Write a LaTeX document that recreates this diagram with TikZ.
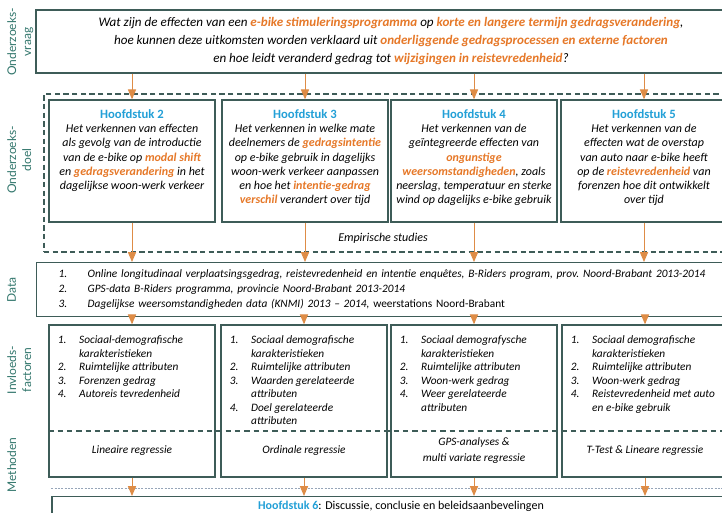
\documentclass[tikz,border=0pt]{standalone}
\usepackage{fontspec}
\setmainfont{Carlito}
\newfontfamily\labelfont{Lato}
\usetikzlibrary{positioning,arrows}

\definecolor{rand}{RGB}{62,92,88}
\definecolor{oranje}{RGB}{230,120,40}
\definecolor{pijlkleur}{RGB}{222,140,70}
\definecolor{blauw}{RGB}{35,160,215}
\definecolor{groen}{RGB}{50,118,108}
\definecolor{grijs}{RGB}{150,165,185}

\newcommand{\acc}[1]{\textcolor{oranje}{\textbf{#1}}}
\newcommand{\hfd}[1]{{\upshape\bfseries\fontsize{9.5}{11}\selectfont\textcolor{blauw}{Hoofdstuk #1}}}
\newcommand{\vakinhoud}[1]{\parbox[c][91.5pt][t]{124.5pt}{\centering\vspace*{7pt}#1}}

\begin{document}
\begin{tikzpicture}[x=0.75pt,y=-0.75pt,>=triangle 45,
  blok/.style={draw=rand,line width=1.1pt,fill=white,inner sep=0pt},
  vak/.style={blok,minimum width=124.5pt,minimum height=91.5pt,font=\itshape\fontsize{9}{10.7}\selectfont},
  kolom/.style={blok,minimum width=124.5pt,minimum height=114pt},
  label/.style={rotate=90,anchor=north,align=center,inner sep=0pt,text=groen,font=\labelfont\fontsize{9}{11.25}\selectfont},
  lijst/.style={anchor=north west,inner sep=0pt,font=\itshape\fontsize{8.5}{10.1}\selectfont},
  methode/.style={align=center,inner sep=0pt,font=\itshape\fontsize{8.5}{12}\selectfont},
  scheiding/.style={draw=rand,line width=0.9pt,dash pattern=on 4pt off 3pt},
  stippel/.style={draw=grijs,line width=0.6pt,dash pattern=on 1.5pt off 1pt},
  pijl/.style={->,color=pijlkleur,line width=0.7pt}]

  \path[use as bounding box,clip] (0,0) rectangle (722,513);

  % kolom met labels
  \node[label] (lvraag) at (7,42)  {Onderzoeks-\\vraag};
  \node[label] (ldoel)  at (7,160) {Onderzoeks-\\doel};
  \node[label] (ldata)  at (7,290) {Data};
  \node[label] (linvl)  at (7,370) {Invloeds-\\factoren};
  \node[label] (lmeth)  at (7,465) {Methoden};

  % onderzoeksvraag
  \node[blok,minimum width=532.5pt,minimum height=47.25pt,align=center,
        font=\itshape\fontsize{9.8}{13.5}\selectfont] (vraag) at (391,41.5)
    {Wat zijn de effecten van een \acc{e-bike stimuleringsprogramma} op \acc{korte en langere termijn gedragsverandering},\\
     hoe kunnen deze uitkomsten worden verklaard uit \acc{onderliggende gedragsprocessen en externe factoren}\\
     en hoe leidt veranderd gedrag tot \acc{wijzigingen in reistevredenheid}?};

  % empirische studies
  \node[draw=rand,line width=1.1pt,dash pattern=on 4pt off 2.5pt,
        minimum width=522pt,minimum height=118.5pt] (doel) at (392,173) {};
  \node[font=\itshape\fontsize{9}{11}\selectfont] (emp) at (383,238) {Empirische studies};

  \node[vak] (h2) at (132,161) {\vakinhoud{\hfd{2}\\
    Het verkennen van effecten\\ als gevolg van de introductie\\ van de e-bike op \acc{modal shift}\\
    en \acc{gedragsverandering} in het\\ dagelijkse woon-werk verkeer}};
  \node[vak] (h3) at (305,161) {\vakinhoud{\hfd{3}\\
    Het verkennen in welke mate\\ deelnemers de \acc{gedragsintentie}\\ op e-bike gebruik in dagelijks\\
    woon-werk verkeer aanpassen\\ en hoe het \acc{intentie-gedrag}\\ \acc{verschil} verandert over tijd}};
  \node[vak] (h4) at (474,161) {\vakinhoud{\hfd{4}\\
    Het verkennen van de\\ geïntegreerde effecten van\\ \acc{ongunstige}\\
    \acc{weersomstandigheden}, zoals\\ neerslag, temperatuur en sterke\\ wind op dagelijks e-bike gebruik}};
  \node[vak] (h5) at (644,161) {\vakinhoud{\hfd{5}\\
    Het verkennen van de\\ effecten wat de overstap\\ van auto naar e-bike heeft\\
    op de \acc{reistevredenheid} van\\ forenzen hoe dit ontwikkelt\\ over tijd}};

  % data
  \node[blok,anchor=north west,minimum height=40.5pt,inner xsep=16.5pt,text width=499.5pt,align=left,
        font=\fontsize{8.5}{11.25}\selectfont] (data) at (36,262)
    {\begin{tabular}{@{}p{21.75pt}@{}l@{}}
     \itshape 1. & \itshape Online longitudinaal verplaatsingsgedrag, reistevredenheid en intentie enquêtes, B-Riders program, prov.\ Noord-Brabant 2013-2014\\
     \itshape 2. & \itshape GPS-data B-Riders programma, provincie Noord-Brabant 2013-2014\\
     \itshape 3. & \textit{Dagelijkse weersomstandigheden data (KNMI) 2013 – 2014,} weerstations Noord-Brabant
     \end{tabular}};

  % invloedsfactoren en methoden
  \node[kolom] (k2) at (132,401) {};
  \node[kolom] (k3) at (304,401) {};
  \node[kolom] (k4) at (474,401) {};
  \node[kolom] (k5) at (645,401) {};

  \node[lijst,below right=7.5pt and 7pt of k2.north west] (f2)
    {\begin{tabular}{@{}p{16pt}@{}l@{}}
     1. & Sociaal-demografische\\ & karakteristieken\\ 2. & Ruimtelijke attributen\\
     3. & Forenzen gedrag\\ 4. & Autoreis tevredenheid
     \end{tabular}};
  \node[lijst,below right=7.5pt and 7pt of k3.north west] (f3)
    {\begin{tabular}{@{}p{16pt}@{}l@{}}
     1. & Sociaal demografische\\ & karakteristieken\\ 2. & Ruimtelijke attributen\\
     3. & Waarden gerelateerde\\ & attributen\\ 4. & Doel gerelateerde\\ & attributen
     \end{tabular}};
  \node[lijst,below right=7.5pt and 7pt of k4.north west] (f4)
    {\begin{tabular}{@{}p{16pt}@{}l@{}}
     1. & Sociaal demografysche\\ & karakteristieken\\ 2. & Ruimtelijke attributen\\
     3. & Woon-werk gedrag\\ 4. & Weer gerelateerde\\ & attributen
     \end{tabular}};
  \node[lijst,below right=7.5pt and 7pt of k5.north west] (f5)
    {\begin{tabular}{@{}p{16pt}@{}l@{}}
     1. & Sociaal demografische\\ & karakteristieken\\ 2. & Ruimtelijke attributen\\
     3. & Woon-werk gedrag\\ 4. & Reistevredenheid met auto\\ & en e-bike gebruik
     \end{tabular}};

  \coordinate (sep) at (0,431);
  \coordinate (meth) at (0,451);
  \draw[scheiding] (k2.west |- sep) -- (k5.east |- sep);

  \node[methode] (m2) at (k2 |- meth) {Lineaire regressie};
  \node[methode] (m3) at (k3 |- meth) {Ordinale regressie};
  \node[methode] (m4) at (k4 |- meth) {GPS-analyses \&\\ multi variate regressie};
  \node[methode] (m5) at (k5 |- meth) {T-Test \& Lineare regressie};

  % hoofdstuk 6
  \node[blok,anchor=north,minimum width=523.5pt,minimum height=15pt,
        font=\fontsize{9}{11}\selectfont] (h6) at (401,496)
    {\textcolor{blauw}{\bfseries Hoofdstuk 6}: Discussie, conclusie en beleidsaanbevelingen};

  \coordinate (stip) at (0,488);
  \draw[stippel] (h6.west |- stip) -- (h6.east |- stip);

  \path[pijl]
    (vraag.south -| h2) edge (h2)
    (vraag.south -| h3) edge (h3)
    (vraag.south -| h4) edge (h4)
    (vraag.south -| h5) edge (h5)
    (h2) edge (h2 |- data.north)
    (h3) edge (h3 |- data.north)
    (h4) edge (h4 |- data.north)
    (h5) edge (h5 |- data.north)
    (data.south -| k2) edge (k2)
    (data.south -| k3) edge (k3)
    (data.south -| k4) edge (k4)
    (data.south -| k5) edge (k5)
    (k2) edge (k2 |- h6.north)
    (k3) edge (k3 |- h6.north)
    (k4) edge (k4 |- h6.north)
    (k5) edge (k5 |- h6.north);
\end{tikzpicture}
\end{document}
